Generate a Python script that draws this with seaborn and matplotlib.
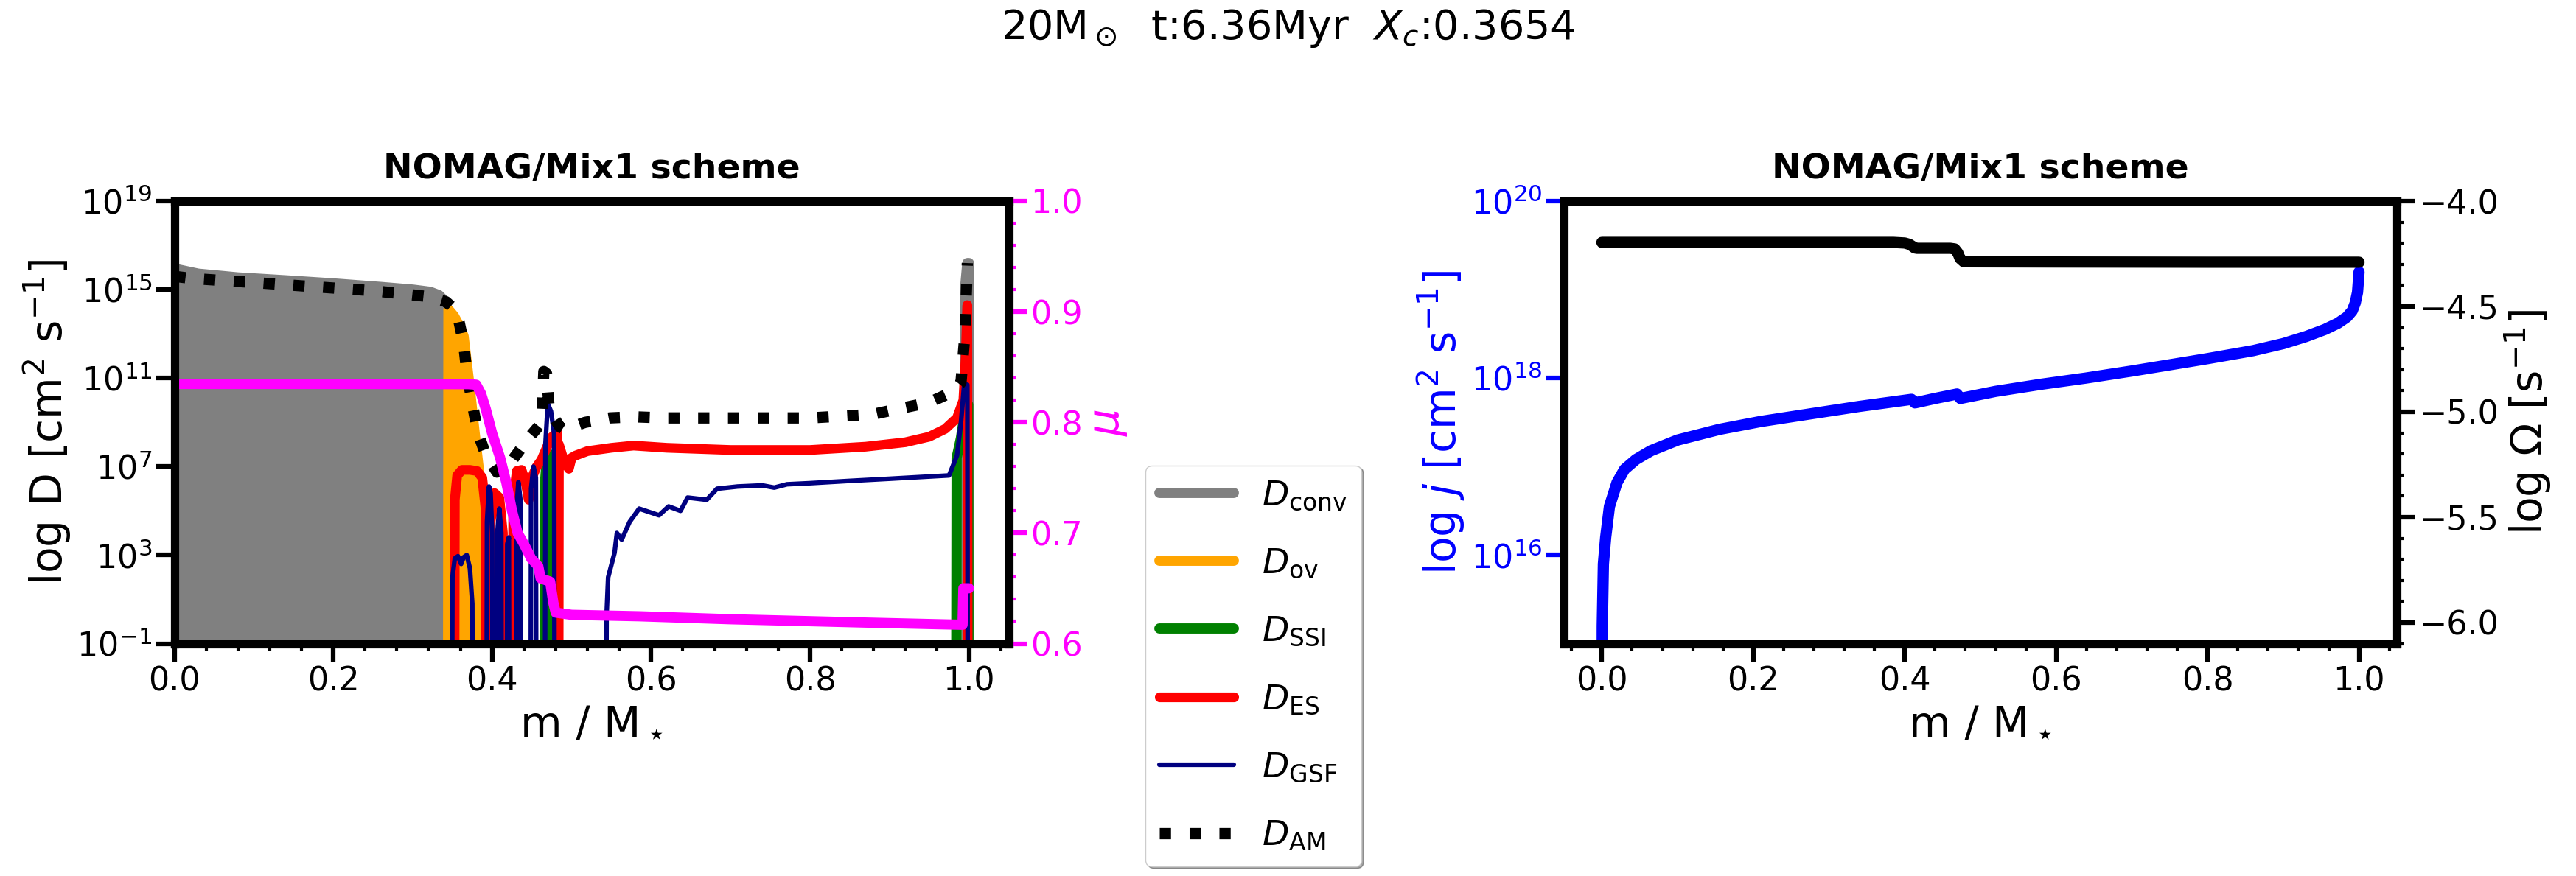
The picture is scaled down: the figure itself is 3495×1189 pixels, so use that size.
import numpy as np
import matplotlib
matplotlib.use("Agg")
import matplotlib.pyplot as plt
import seaborn as sns
from matplotlib.ticker import MultipleLocator, FixedLocator, NullLocator
from matplotlib.lines import Line2D

F = -5.0  # log10 floor used where a coefficient is absent

# ---------------- left panel: diffusion coefficients (log10 D) ----------------
conv_m = [0.0, 0.03, 0.08, 0.14, 0.20, 0.26, 0.30, 0.322, 0.333, 0.340, 0.344, 0.3445,
          0.9945, 0.995, 0.998, 1.0, 1.0005]
conv_logD = [15.95, 15.72, 15.55, 15.42, 15.28, 15.12, 15.0, 14.9, 14.75, 14.5, 14.1, F,
             F, 15.0, 16.2, 16.2, F]

ov_m = [0.3445, 0.345, 0.352, 0.358, 0.364, 0.371, 0.378, 0.385, 0.392, 0.398, 0.403, 0.406, 0.4065]
ov_logD = [F, 14.1, 13.8, 13.4, 12.9, 10.8, 8.5, 6.3, 4.6, 3.0, 1.5, 0.3, F]

ssi_m = [0.4665, 0.467, 0.469, 0.4705, 0.472, 0.4735, 0.474,
         0.984, 0.9845, 0.987, 0.990, 0.993, 0.996, 0.999, 0.9995]
ssi_logD = [F, 6.5, 7.5, 7.6, 7.4, 6.5, F,
            F, 7.4, 7.8, 8.3, 9.0, 9.7, 9.8, F]

es_m = [0.3525, 0.353, 0.356, 0.362, 0.372, 0.381, 0.3875, 0.392, 0.3925,
        0.3975, 0.398, 0.403, 0.409, 0.4135, 0.414,
        0.426, 0.4265, 0.431, 0.437, 0.442, 0.446, 0.450, 0.456, 0.462, 0.468, 0.474, 0.482, 0.4825,
        0.4835, 0.484, 0.490, 0.4965, 0.500, 0.505, 0.52, 0.55, 0.578, 0.62, 0.70, 0.80, 0.87,
        0.92, 0.95, 0.97, 0.985, 0.993, 0.996, 0.998, 0.9985]
es_logD = [F, 5.5, 6.6, 6.85, 6.85, 6.8, 6.5, 5.0, F,
           F, 4.5, 5.8, 5.6, 4.0, F,
           F, 5.5, 6.8, 6.85, 6.3, 5.5, 6.5, 7.0, 7.3, 7.8, 8.3, 8.55, F,
           F, 8.0, 7.3, 6.9, 7.4, 7.5, 7.7, 7.85, 7.95, 7.85, 7.75, 7.75, 7.9,
           8.1, 8.35, 8.7, 9.2, 10.0, 12.0, 14.3, F]

gsf_m = [0.3495, 0.350, 0.353, 0.357, 0.361, 0.364, 0.368, 0.372, 0.375, 0.3755,
         0.393, 0.3935, 0.396, 0.398, 0.400, 0.4005,
         0.406, 0.4065, 0.409, 0.4115, 0.412,
         0.4185, 0.419, 0.421, 0.4215,
         0.430, 0.4305, 0.433, 0.4355, 0.436,
         0.4485, 0.449, 0.452, 0.455, 0.4555,
         0.4665, 0.467, 0.470, 0.474, 0.478, 0.4785,
         0.5435, 0.544, 0.546, 0.554, 0.557, 0.563, 0.573, 0.585, 0.61, 0.622, 0.637, 0.646,
         0.67, 0.683, 0.709, 0.74, 0.755, 0.771, 0.80, 0.848, 0.90, 0.95, 0.975, 0.985,
         0.99, 0.994, 0.998, 0.9985]
gsf_logD = [F, 2.0, 2.85, 2.95, 2.6, 2.9, 3.0, 2.4, 0.8, F,
            F, 4.5, 6.1, 5.8, 4.0, F,
            F, 4.0, 5.1, 4.0, F,
            F, 3.5, 3.8, F,
            F, 5.0, 6.3, 5.5, F,
            F, 6.0, 7.0, 6.5, F,
            F, 8.0, 9.85, 9.5, 8.5, F,
            F, 0.3, 2.0, 3.1, 4.0, 3.7, 4.5, 5.1, 4.8, 5.2, 5.0, 5.6,
            5.5, 6.0, 6.1, 6.15, 6.05, 6.2, 6.25, 6.35, 6.45, 6.55, 6.6, 7.5,
            9.0, 10.7, 10.7, F]

am_m = [0.0, 0.023, 0.10, 0.172, 0.25, 0.321, 0.342, 0.353, 0.358, 0.364, 0.368, 0.375,
        0.382, 0.392, 0.406, 0.417, 0.428, 0.440, 0.449, 0.458, 0.4625, 0.465, 0.4685,
        0.472, 0.478, 0.485, 0.492, 0.505, 0.517, 0.548, 0.579, 0.616, 0.693, 0.80, 0.879,
        0.91, 0.95, 0.981, 0.99, 0.995, 0.998]
am_logD = [15.6, 15.5, 15.32, 15.14, 14.95, 14.68, 14.45, 14.1, 13.6, 12.6, 11.3, 9.85,
           8.53, 7.53, 6.75, 6.85, 7.42, 8.0, 8.42, 8.8, 9.0, 11.3, 11.2,
           9.5, 9.2, 8.8, 8.64, 8.85, 9.0, 9.2, 9.25, 9.2, 9.2, 9.2, 9.36,
           9.6, 9.9, 10.4, 10.8, 13.0, 16.2]

mu_m = [0.0, 0.2, 0.37, 0.38, 0.386, 0.392, 0.40, 0.41, 0.418, 0.425, 0.432, 0.44, 0.449,
        0.458, 0.461, 0.473, 0.477, 0.480, 0.49, 0.50, 0.585, 0.70, 0.87, 0.96, 0.992,
        0.993, 1.0]
mu_val = [0.8347, 0.8347, 0.8345, 0.834, 0.826, 0.812, 0.79, 0.768, 0.745, 0.72, 0.70, 0.69,
          0.677, 0.67, 0.659, 0.656, 0.637, 0.628, 0.627, 0.626, 0.6247, 0.622, 0.619, 0.6175,
          0.617, 0.65, 0.65]

# ---------------- right panel: specific angular momentum and Omega ----------------
j_m = [0.0, 0.0005, 0.002, 0.005, 0.010, 0.02, 0.03, 0.045, 0.065, 0.10, 0.155, 0.21,
       0.267, 0.34, 0.409, 0.4135, 0.44, 0.469, 0.4735, 0.52, 0.58, 0.639, 0.70, 0.80,
       0.86, 0.90, 0.93, 0.955, 0.972, 0.984, 0.991, 0.995, 0.998, 1.0]
j_log = [13.0, 15.2, 15.9, 16.2, 16.55, 16.82, 16.97, 17.08, 17.18, 17.3, 17.42, 17.51,
         17.585, 17.68, 17.76, 17.72, 17.77, 17.82, 17.77, 17.85, 17.93, 18.0, 18.08, 18.22,
         18.31, 18.39, 18.47, 18.55, 18.62, 18.69, 18.76, 18.85, 18.97, 19.2]

om_m = [0.0, 0.10, 0.20, 0.30, 0.385, 0.400, 0.406, 0.410, 0.413, 0.416, 0.460, 0.466,
        0.470, 0.473, 0.478, 0.60, 0.80, 1.0]
om_log = [-4.196, -4.196, -4.196, -4.196, -4.196, -4.199, -4.205, -4.214, -4.222, -4.224,
          -4.224, -4.227, -4.245, -4.272, -4.288, -4.289, -4.29, -4.29]

legend_labels = [r"$D_{\rm conv}$", r"$D_{\rm ov}$", r"$D_{\rm SSI}$",
                 r"$D_{\rm ES}$", r"$D_{\rm GSF}$", r"$D_{\rm AM}$"]
xticks = [0.0, 0.2, 0.4, 0.6, 0.8, 1.0]
D_ticks = [1e-1, 1e3, 1e7, 1e11, 1e15, 1e19]
mu_ticks = [0.6, 0.7, 0.8, 0.9, 1.0]
j_ticks = [1e16, 1e18, 1e20]
om_ticks = [-6.0, -5.5, -5.0, -4.5, -4.0]

# ---------------- style ----------------
sns.set_style("ticks")
plt.rcParams["font.family"] = ["DejaVu Sans"]
plt.rcParams["mathtext.fontset"] = "dejavusans"
for k in ["text.color", "axes.labelcolor", "xtick.color", "ytick.color", "axes.edgecolor"]:
    plt.rcParams[k] = "black"

W, H = 3495, 1189
fig = plt.figure(figsize=(W / 100, H / 100), dpi=100)
ax1 = fig.add_axes([236.5 / W, 1 - 873.5 / H, (1368.5 - 236.5) / W, (873.5 - 273) / H])
ax2 = fig.add_axes([2122 / W, 1 - 873.5 / H, (3252 - 2122) / W, (873.5 - 273) / H])

SP = 8
TL = 32
LAB = 42


def style_axis(ax):
    for s in ax.spines.values():
        s.set_linewidth(SP)
        s.set_color("black")
        s.set_visible(True)
    ax.tick_params(which="major", length=18, width=4.5, labelsize=TL, direction="out",
                   color="black", labelcolor="black")
    ax.tick_params(which="minor", length=7.5, width=3, direction="out", color="black")


def tolin(v):
    return 10.0 ** np.asarray(v, dtype=float)


def line(ax, x, y, **kw):
    sns.lineplot(x=np.asarray(x, dtype=float), y=np.asarray(y, dtype=float), ax=ax,
                 estimator=None, sort=False, legend=False, **kw)
    return ax.lines[-1]


# ---------------- left panel ----------------
ax1.set_yscale("log")
floor = 10.0 ** F
ax1.fill_between(conv_m, tolin(conv_logD), floor, color="gray", lw=0)
h_conv = line(ax1, conv_m, tolin(conv_logD), color="gray", lw=10)
ax1.fill_between(ov_m, tolin(ov_logD), floor, color="orange", lw=0)
h_ov = line(ax1, ov_m, tolin(ov_logD), color="orange", lw=10)
ax1.fill_between(ssi_m, tolin(ssi_logD), floor, color="green", lw=0)
h_ssi = line(ax1, ssi_m, tolin(ssi_logD), color="green", lw=10)
h_es = line(ax1, es_m, tolin(es_logD), color="red", lw=9.5)
h_gsf = line(ax1, gsf_m, tolin(gsf_logD), color="navy", lw=4.5)
h_am = line(ax1, am_m, tolin(am_logD), color="black", lw=11)
h_am.set_linestyle(":")

ax1.set_xlim(0, 1.05)
ax1.set_ylim(1e-1, 1e19)
ax1.yaxis.set_major_locator(FixedLocator(D_ticks))
ax1.yaxis.set_minor_locator(NullLocator())
ax1.xaxis.set_major_locator(FixedLocator(xticks))
ax1.xaxis.set_minor_locator(MultipleLocator(0.04))
ax1.set_xticklabels([f"{t:.1f}" for t in xticks])
style_axis(ax1)
ax1.set_xlabel(r"m / M$_\star$", fontsize=LAB, color="black")
ax1.set_ylabel(r"log D [cm$^2$ s$^{-1}$]", fontsize=LAB, color="black")
ax1.set_title("NOMAG/Mix1 scheme", fontsize=34, fontweight="bold", pad=22, color="black")

ax1t = ax1.twinx()
line(ax1t, mu_m, mu_val, color="magenta", lw=10)
ax1t.set_ylim(0.6, 1.0)
ax1t.yaxis.set_major_locator(FixedLocator(mu_ticks))
ax1t.yaxis.set_minor_locator(MultipleLocator(0.02))
style_axis(ax1t)
ax1t.tick_params(axis="y", which="both", colors="magenta")
ax1t.set_ylabel(r"$\mu$", fontsize=LAB, color="magenta")
ax1t.set_xlim(0, 1.05)

# ---------------- right panel ----------------
ax2.set_yscale("log")
line(ax2, j_m, tolin(j_log), color="blue", lw=11)
ax2.set_xlim(-0.05, 1.05)
ax2.set_ylim(1e15, 1e20)
ax2.yaxis.set_major_locator(FixedLocator(j_ticks))
ax2.yaxis.set_minor_locator(NullLocator())
ax2.xaxis.set_major_locator(FixedLocator(xticks))
ax2.xaxis.set_minor_locator(MultipleLocator(0.04))
ax2.set_xticklabels([f"{t:.1f}" for t in xticks])
style_axis(ax2)
ax2.tick_params(axis="y", which="both", colors="blue")
ax2.set_xlabel(r"m / M$_\star$", fontsize=LAB, color="black")
ax2.set_ylabel(r"log $j$ [cm$^2$ s$^{-1}$]", fontsize=LAB, color="blue")
ax2.set_title("NOMAG/Mix1 scheme", fontsize=34, fontweight="bold", pad=22, color="black")

ax2t = ax2.twinx()
line(ax2t, om_m, om_log, color="black", lw=11)
ax2t.set_ylim(-6.1, -4.0)
ax2t.yaxis.set_major_locator(FixedLocator(om_ticks))
ax2t.yaxis.set_minor_locator(MultipleLocator(0.1))
style_axis(ax2t)
ax2t.set_ylabel(r"log $\Omega$ [s$^{-1}$]", fontsize=LAB, color="black")
ax2t.set_xlim(-0.05, 1.05)

# ---------------- legend & suptitle ----------------
handles = [h_conv, h_ov, h_ssi, h_es, h_gsf, h_am]
proxies = [Line2D([], [], color=h.get_color(), lw=h.get_linewidth(),
                  linestyle=h.get_linestyle()) for h in handles]
leg = fig.legend(proxies, legend_labels, loc="lower left",
                 bbox_to_anchor=(1554 / W, 1 - 1176 / H), borderaxespad=0,
                 fontsize=34, handlelength=2.15, labelspacing=1.0, shadow=True)
for t in leg.get_texts():
    t.set_color("black")

fig.text(0.5, 1 - 53 / H, r"20M$_\odot$  t:6.36Myr  $X_c$:0.3654",
         ha="center", va="baseline", fontsize=40, color="black")

fig.savefig("out.png", dpi=100)
